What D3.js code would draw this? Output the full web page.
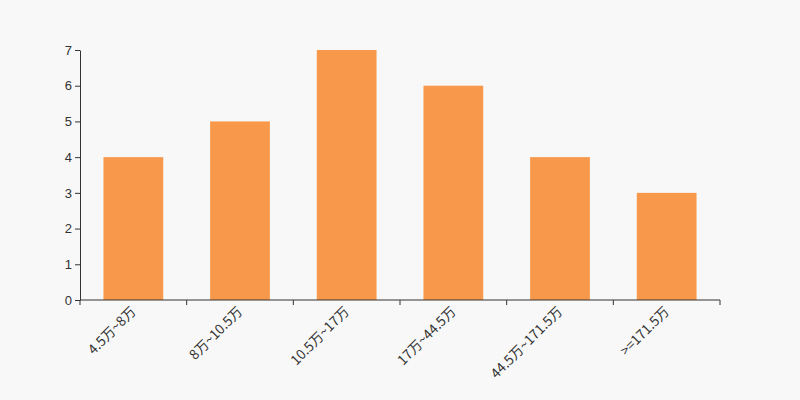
<!DOCTYPE html>
<html><head><meta charset="utf-8">
<script src="https://cdn.jsdelivr.net/npm/d3@7"></script>
<style>html,body{margin:0;padding:0;background:#f8f8f8;}svg{display:block;}</style>
</head><body>
<svg id="c" width="800" height="400"></svg>
<script>
const categories = ["4.5万~8万","8万~10.5万","10.5万~17万","17万~44.5万","44.5万~171.5万",">=171.5万"];
const values = [4,5,7,6,4,3];
const yTicks = [0,1,2,3,4,5,6,7];

const svg = d3.select("#c");
const W=800,H=400, L=80, R=720, T=50, B=300;
svg.append("rect").attr("width",W).attr("height",H).attr("fill","#f8f8f8");
const x = d3.scaleBand().domain(categories).range([L,R]).paddingInner(0.44).paddingOuter(0.22);
const y = d3.scaleLinear().domain([0,7]).range([B,T]);
const font = "'Noto Sans CJK SC', sans-serif";

svg.append("g").selectAll("rect").data(values).join("rect")
  .attr("x",(d,i)=>x(categories[i]))
  .attr("width",x.bandwidth())
  .attr("y",d=>y(d))
  .attr("height",d=>y(0)-y(d))
  .attr("fill","#f7984a");

// y axis
const ya = svg.append("g").attr("transform",`translate(${L},0)`)
  .call(d3.axisLeft(y).tickValues(yTicks).tickFormat(d3.format("d")).tickSize(5).tickPadding(3).tickSizeOuter(0));
ya.select(".domain").attr("stroke","#333");
ya.selectAll(".tick line").attr("stroke","#333");
ya.selectAll(".tick text").attr("fill","#333").style("font-size","13px").style("font-family","Arial, 'Liberation Sans', sans-serif");

// x axis
const xa = svg.append("g").attr("transform",`translate(0,${B})`);
xa.append("line").attr("x1",L).attr("x2",R).attr("stroke","#333");
const step = (R-L)/categories.length;
const bounds = d3.range(categories.length+1).map(i=>L+i*step);
xa.selectAll("line.tk").data(bounds).join("line").attr("class","tk")
  .attr("x1",d=>d).attr("x2",d=>d).attr("y1",0).attr("y2",5).attr("stroke","#333");
xa.selectAll("text").data(categories).join("text")
  .attr("transform",d=>`translate(${x(d)+x.bandwidth()/2},9) rotate(-45)`)
  .attr("text-anchor","end")
  .attr("dy","0.35em")
  .attr("fill","#333")
  .style("font-size","13.5px")
  .style("font-family",font)
  .text(d=>d);
</script>
</body></html>
